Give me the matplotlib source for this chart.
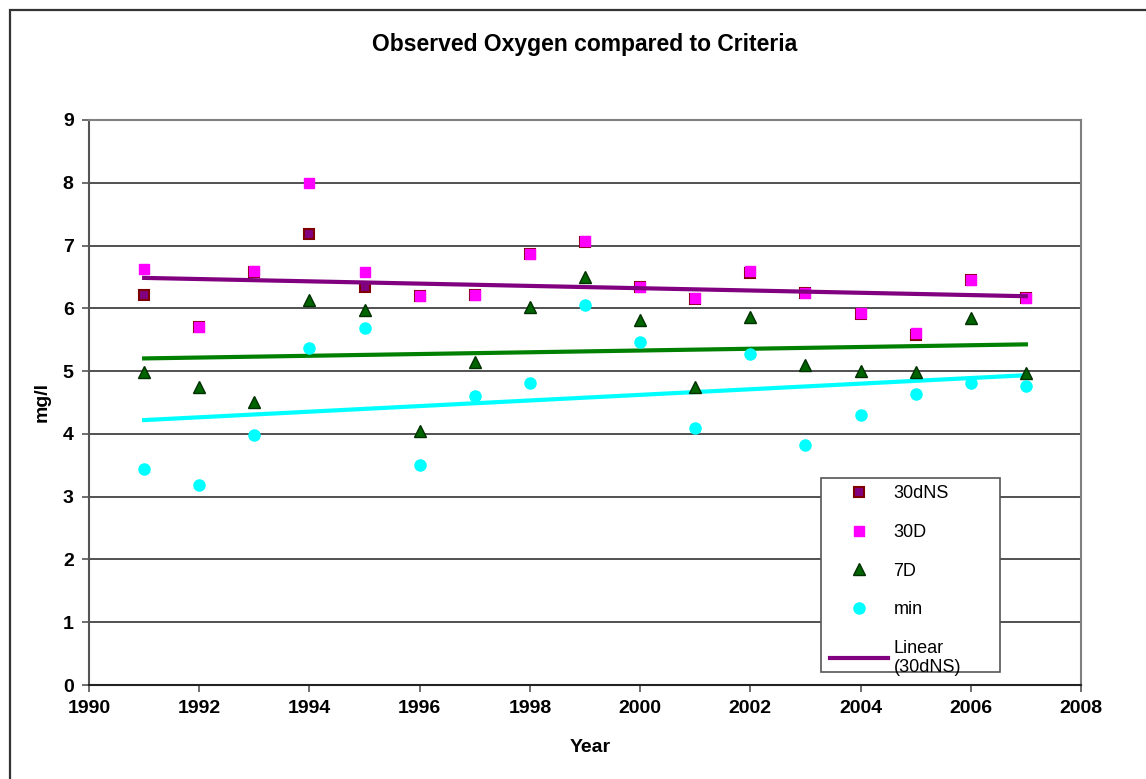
import numpy as np
import matplotlib
matplotlib.use("Agg")
import matplotlib.pyplot as plt
from matplotlib.patches import Rectangle

plt.rcParams['font.family'] = ['Liberation Sans', 'DejaVu Sans']

# data
years = np.arange(1991, 2008)
ns30 = [6.22, 5.70, 6.58, 7.18, 6.34, 6.19, 6.22, 6.86, 7.06, 6.34, 6.15, 6.57, 6.25, 5.91, 5.57, 6.45, 6.17]
d30 = [6.62, 5.70, 6.59, 7.99, 6.58, 6.19, 6.22, 6.87, 7.07, 6.34, 6.16, 6.60, 6.25, 5.92, 5.60, 6.45, 6.17]
d7 = [4.98, 4.75, 4.50, 6.13, 5.98, 4.04, 5.14, 6.02, 6.50, 5.81, 4.74, 5.86, 5.10, 5.00, 4.98, 5.84, 4.97]
mins = [3.44, 3.18, 3.98, 5.37, 5.68, 3.50, 4.60, 4.81, 6.06, 5.47, 4.10, 5.28, 3.82, 4.30, 4.64, 4.81, 4.77]

W, H = 1146, 779
fig = plt.figure(figsize=(W/100, H/100), dpi=100)
ax = fig.add_axes([89/W, 1-685/H, 992/W, 565/H])

# outer chart border (only left/top visible in the original)
fig.patches.append(Rectangle((10/W, -0.1), 1.2, 1-10/H+0.1, transform=fig.transFigure,
                             fill=False, edgecolor='#333333', linewidth=1.6))

# linear trends
def trend(y):
    k, b = np.polyfit(years, y, 1)
    return k*years + b

ax.plot(years, trend(d7), color='#008000', lw=3, zorder=2)
ax.plot(years, trend(mins), color='#00FFFF', lw=3, zorder=2)

ax.plot(years, ns30, 's', color='#800080', mec='#800000', mew=1.5, ms=7.5, label='30dNS', zorder=3)
ax.plot(years, d30, 's', color='#FF00FF', mec='#FF00FF', ms=7.5, label='30D', zorder=4)
ax.plot(years, d7, '^', color='#006400', mec='#003000', mew=1, ms=8.5, label='7D', zorder=3)
ax.plot(years, mins, 'o', color='#00FFFF', mec='#00FFFF', ms=8, label='min', zorder=3)
ax.plot(years, trend(ns30), color='#800080', lw=3, label='Linear\n(30dNS)', zorder=5)

ax.set_xlim(1990, 2008)
ax.set_ylim(0, 9)
ax.set_xticks(range(1990, 2009, 2))
ax.set_yticks(range(0, 10))
ax.grid(axis='y', color='#333333', lw=1.2)
ax.set_axisbelow(True)
for s in ax.spines.values():
    s.set_color('#808080')
    s.set_linewidth(1.5)
ax.spines['left'].set_color('#555555')
ax.spines['bottom'].set_color('#222222')
ax.tick_params(length=5, width=1.2, color='#555555', labelsize=14, pad=6)
for t in ax.get_xticklabels() + ax.get_yticklabels():
    t.set_fontweight('bold')

fig.text(585/W, 1-45/H, 'Observed Oxygen compared to Criteria', ha='center', va='center',
         fontsize=16.5, fontweight='bold')
fig.text(42/W, 1-402/H, 'mg/l', rotation=90, ha='center', va='center', fontsize=14, fontweight='bold')
fig.text(590/W, 1-748/H, 'Year', ha='center', va='center', fontsize=14, fontweight='bold')

# legend box drawn by hand so its size matches
ax.add_patch(Rectangle(((821-89)/992, (685-672)/565), (1000-821)/992, (672-478)/565,
                       transform=ax.transAxes, facecolor='white', edgecolor='#555555',
                       lw=1.2, zorder=6))
leg = ax.legend(loc='upper left', bbox_to_anchor=((823-89)/992, (685-478)/565), fontsize=13,
                frameon=False, labelspacing=1.2, handlelength=3.2, handletextpad=0.3,
                borderaxespad=0, borderpad=0.4)
leg.set_zorder(7)

fig.savefig('out.png', dpi=100)
